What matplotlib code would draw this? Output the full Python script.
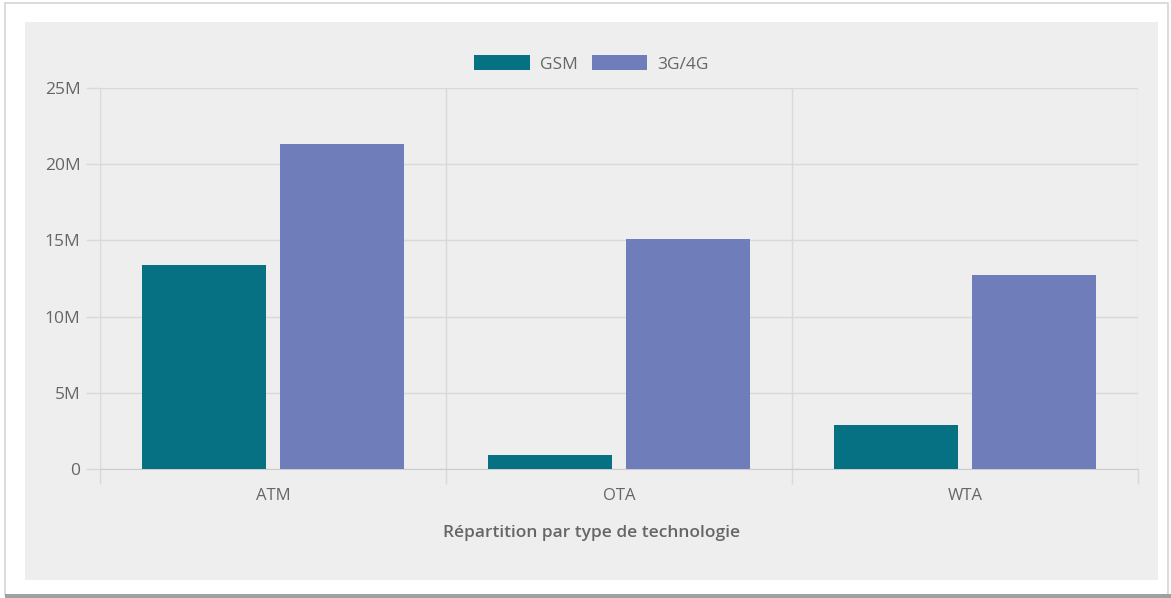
import matplotlib.pyplot as plt
from matplotlib.patches import Rectangle
from matplotlib.ticker import FuncFormatter
import numpy as np

plt.rcParams['font.family'] = ['Open Sans', 'DejaVu Sans']

categories = ['ATM', 'OTA', 'WTA']
gsm = [13.4, 0.95, 2.9]          # millions
g3g4g = [21.35, 15.1, 12.75]     # millions
series_names = ['GSM', '3G/4G']
y_ticks = [0, 5, 10, 15, 20, 25]

C_GSM = '#077184'
C_3G = '#6f7eba'
C_PANEL = '#eeeeee'
C_GRID = '#d9d9d9'
C_TEXT = '#666666'

W, H = 1171, 598
fig = plt.figure(figsize=(W / 100, H / 100), dpi=100)
fig.patch.set_facecolor('white')

# card shadow + grey panel behind the chart
fig.add_artist(Rectangle((5 / W, 3 / H), 1 - 8 / W, 1 - 6 / H, transform=fig.transFigure,
                         facecolor='none', edgecolor='#d4d4d4', lw=1.2, zorder=0))
fig.add_artist(Rectangle((5 / W, 0), 1 - 5 / W, 4 / H, transform=fig.transFigure,
                         facecolor='#a0a0a0', edgecolor='none', zorder=0))
fig.add_artist(Rectangle((25 / W, (H - 580) / H), (1158 - 25) / W, (580 - 22) / H,
                         transform=fig.transFigure, facecolor=C_PANEL, edgecolor='none', zorder=0))
panel_cx = 591.5 / W

ax = fig.add_axes([100 / W, (H - 469) / H, (1138 - 100) / W, (469 - 88) / H])
ax.set_facecolor('none')

x = np.arange(len(categories))
bw = 0.36
ax.bar(x - 0.2, gsm, bw, color=C_GSM, label=series_names[0], zorder=3)
ax.bar(x + 0.2, g3g4g, bw, color=C_3G, label=series_names[1], zorder=3)

ax.set_xlim(-0.5, len(categories) - 0.5)
ax.set_ylim(0, 25)

ax.set_yticks(y_ticks)
ax.yaxis.set_major_formatter(FuncFormatter(lambda v, _: '0' if v == 0 else f'{int(v)}M'))
ax.set_xticks(x)
ax.set_xticklabels(categories)
ax.set_xticks(np.arange(len(categories) + 1) - 0.5, minor=True)

ax.grid(axis='y', color=C_GRID, lw=1, zorder=0)
ax.grid(axis='x', which='minor', color=C_GRID, lw=1, zorder=0)
ax.tick_params(axis='x', which='major', length=0, pad=14, labelsize=12, labelcolor=C_TEXT)
ax.tick_params(axis='x', which='minor', length=11, color=C_GRID, width=1)
ax.tick_params(axis='y', length=10, color=C_GRID, width=1, pad=4, labelsize=12.5, labelcolor=C_TEXT)

for s in ['top', 'right', 'left']:
    ax.spines[s].set_visible(False)
ax.spines['bottom'].set_color('#cccccc')

fig.text(panel_cx, 1 - 533 / H, 'Répartition par type de technologie', color=C_TEXT,
         fontsize=12.5, fontweight='semibold', ha='center', va='center')

handles, labels = ax.get_legend_handles_labels()
fig.legend(handles, labels, loc='center', bbox_to_anchor=(panel_cx, 1 - 64 / H), ncol=2,
           frameon=False, fontsize=12.5, labelcolor=C_TEXT, handlelength=3.2,
           handleheight=0.9, columnspacing=0.8, handletextpad=0.6)

fig.savefig('out.png', dpi=100, facecolor='white')
